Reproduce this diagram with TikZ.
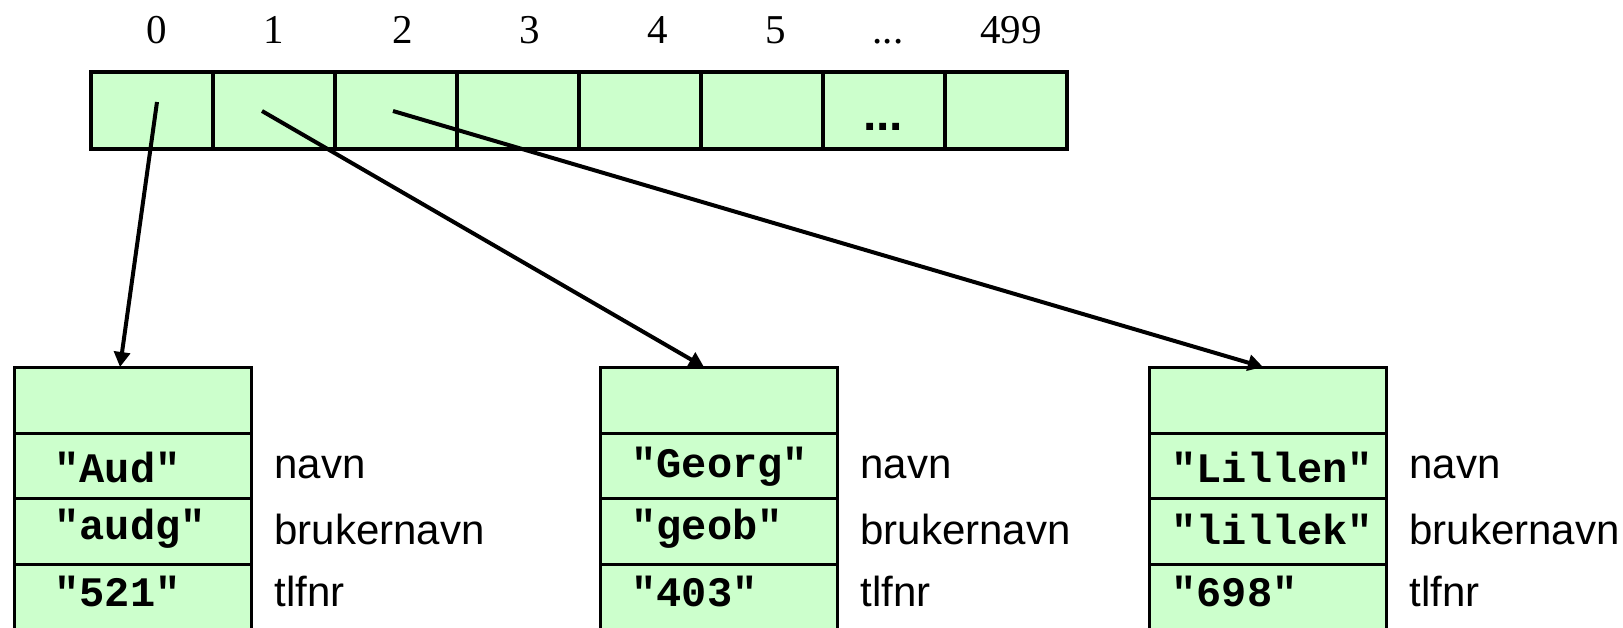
\documentclass[tikz,border=0pt]{standalone}
\usepackage{fontspec}
\setmainfont{Liberation Serif}
\newfontfamily\labelfont{Liberation Sans}
\newfontfamily\codefont{Liberation Mono}
\usetikzlibrary{arrows.meta}
\definecolor{cellgreen}{HTML}{CCFFCC}
\begin{document}
\begin{tikzpicture}[x=0.5pt, y=-0.5pt,
  cell/.style={draw, line width=2pt, fill=cellgreen, minimum width=61pt, minimum height=38.5pt, inner sep=0pt},
  row/.style={draw, line width=1.25pt, fill=cellgreen, minimum width=118.5pt, minimum height=32.75pt, inner sep=0pt},
  idx/.style={font=\fontsize{20.5}{24}\selectfont, inner sep=0pt, anchor=base},
  val/.style={font=\codefont\bfseries\fontsize{21}{25}\selectfont, anchor=west, inner sep=0pt},
  field/.style={font=\labelfont\fontsize{21}{25}\selectfont, anchor=west, inner sep=0pt},
  ptr/.style={line width=2pt, -{Triangle[length=7.5pt, width=8pt]}}]
\useasboundingbox (0,0) rectangle (1623,627);

% array of 500 references
\foreach \i/\x in {0/152,1/274,2/396,3/518,4/640,5/762,6/884,7/1006}
  \node[cell] (c\i) at (\x,110) {};
\node[font=\labelfont\bfseries\fontsize{24}{28}\selectfont, inner sep=0pt, anchor=base] (dots) at (883,130) {...};

% indices
\foreach \t/\x in {0/157,1/274,2/403,3/530,4/658,5/776,499/1011}
  \node[idx] at (\x,43) {\t};
\node[idx] (idxdots) at (888,43) {...};

% three user objects
\foreach \b/\x in {A/133,B/719,C/1268}{
  \node[row] (\b0) at (\x,400) {};
  \node[row] (\b1) at (\x,466) {};
  \node[row] (\b2) at (\x,531) {};
  \node[row] (\b3) at (\x,597) {};
}

\node[val] at (54,467) {"Aud"};
\node[val] at (54,529) {"audg"};
\node[val] at (54,591) {"521"};
\node[val] at (631,467) {"Georg"};
\node[val] at (631,529) {"geob"};
\node[val] at (631,591) {"403"};
\node[val] at (1171,467) {"Lillen"};
\node[val] at (1171,529) {"lillek"};
\node[val] at (1171,591) {"698"};

\foreach \x in {274,860,1409}{
  \node[field] at (\x,467) {navn};
  \node[field] at (\x,529) {brukernavn};
  \node[field] at (\x,591) {tlfnr};
}

% references
\coordinate (s0) at (157,102);
\coordinate (s1) at (262,111);
\coordinate (s2) at (393,111);
\coordinate (eA) at (120,367);
\coordinate (eB) at (704,367);
\coordinate (eC) at (1263,367);
\draw[ptr] (s0) -- (eA);
\draw[ptr] (s1) -- (eB);
\draw[ptr] (s2) -- (eC);
\end{tikzpicture}
\end{document}
